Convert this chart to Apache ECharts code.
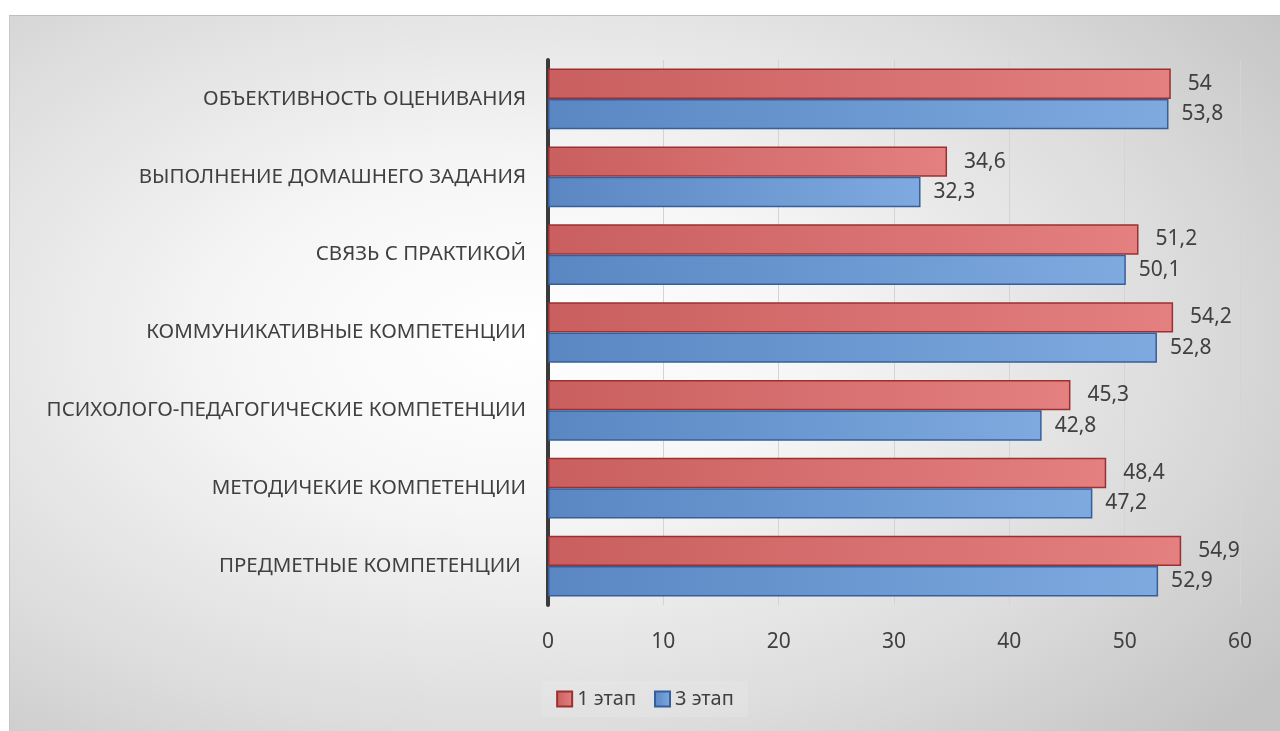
<!DOCTYPE html>
<html>
<head>
<meta charset="utf-8">
<script src="https://cdn.jsdelivr.net/npm/echarts@6/dist/echarts.min.js"></script>
<style>
  html, body { margin: 0; padding: 0; background: #fff; }
  #frame {
    position: absolute;
    left: 9px; top: 15px;
    width: 1271px; height: 716px;
    border-top: 1px solid #bdbdbd;
    border-left: 1px solid #c8c8c8;
    box-sizing: border-box;
    background: radial-gradient(ellipse 75% 80% at 40% 45%, #ffffff 0%, #f6f6f6 30%, #dcdcdc 70%, #c4c4c4 100%);
  }
  #chart { width: 100%; height: 100%; }
</style>
</head>
<body>
<div id="frame"><div id="chart"></div></div>
<script>
// categories listed bottom -> top (category axis starts at the bottom)
const categories = [
  'ПРЕДМЕТНЫЕ КОМПЕТЕНЦИИ ',
  'МЕТОДИЧЕКИЕ КОМПЕТЕНЦИИ',
  'ПСИХОЛОГО-ПЕДАГОГИЧЕСКИЕ КОМПЕТЕНЦИИ',
  'КОММУНИКАТИВНЫЕ КОМПЕТЕНЦИИ',
  'СВЯЗЬ С ПРАКТИКОЙ',
  'ВЫПОЛНЕНИЕ ДОМАШНЕГО ЗАДАНИЯ',
  'ОБЪЕКТИВНОСТЬ ОЦЕНИВАНИЯ'
]
const stage1 = [54.9, 48.4, 45.3, 54.2, 51.2, 34.6, 54]
const stage3 = [52.9, 47.2, 42.8, 52.8, 50.1, 32.3, 53.8]
const seriesNames = ['1 этап', '3 этап']

const textColor = '#404040'
const fontFamily = '"Noto Sans", "Open Sans", sans-serif'

function barFill(c0, c1) {
  return new echarts.graphic.LinearGradient(0, 0, 1, 0, [
    { offset: 0, color: c0 },
    { offset: 1, color: c1 }
  ])
}

const fmtComma = p => String(p.value).replace('.', ',')

const chart = echarts.init(document.getElementById('chart'))
chart.setOption({
  backgroundColor: 'transparent',
  textStyle: { fontFamily: fontFamily, color: textColor },
  animation: false,
  grid: { left: 538, right: 40, top: 44, bottom: 126 },
  legend: {
    data: seriesNames,
    bottom: 14,
    left: 'center',
    icon: 'rect',
    itemWidth: 15,
    itemHeight: 15,
    itemGap: 18,
    padding: [8, 14],
    backgroundColor: 'rgba(255,255,255,0.12)',
    textStyle: { fontSize: 20, color: textColor, fontFamily: fontFamily }
  },
  xAxis: {
    type: 'value',
    min: 0,
    max: 60,
    interval: 10,
    axisLine: { show: false },
    axisTick: { show: false },
    axisLabel: { fontSize: 21, color: textColor, margin: 27 },
    splitLine: { lineStyle: { color: '#d4d4d4', width: 1 } }
  },
  yAxis: {
    type: 'category',
    data: categories,
    axisTick: { show: false },
    axisLine: { lineStyle: { color: '#3a3a3a', width: 4 } },
    axisLabel: { fontSize: 20.5, color: textColor, margin: 22 }
  },
  series: [
    {
      name: seriesNames[0],
      type: 'bar',
      data: stage1,
      barGap: '0%',
      barCategoryGap: '22%',
      itemStyle: {
        color: barFill('#c95f5f', '#e48080'),
        borderColor: '#9b3030',
        borderWidth: 1.5
      },
      label: {
        show: true,
        position: 'right',
        distance: 17,
        fontSize: 21,
        color: textColor,
        formatter: fmtComma
      }
    },
    {
      name: seriesNames[1],
      type: 'bar',
      data: stage3,
      itemStyle: {
        color: barFill('#5a86c2', '#7eaae0'),
        borderColor: '#355f9c',
        borderWidth: 1.5
      },
      label: {
        show: true,
        position: 'right',
        distance: 13,
        fontSize: 21,
        color: textColor,
        formatter: fmtComma
      }
    }
  ]
})
</script>
</body>
</html>
